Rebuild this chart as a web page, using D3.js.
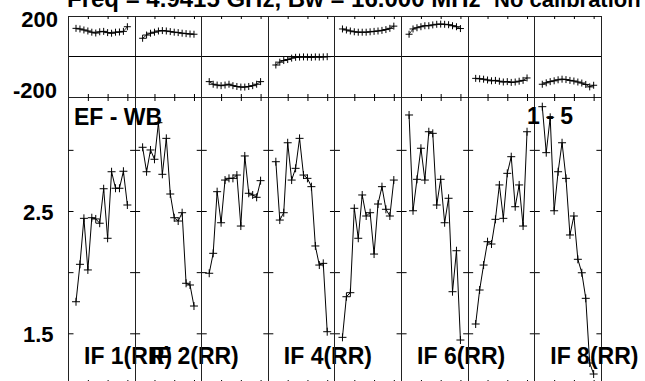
<!DOCTYPE html>
<html>
<head>
<meta charset="utf-8">
<script src="https://cdn.jsdelivr.net/npm/d3@7"></script>
<style>
  body { margin: 0; background: #fff; }
  text { font-family: "Liberation Sans", Arial, Helvetica, sans-serif; font-weight: bold; fill: #000; }
</style>
</head>
<body>
<div id="graphique"></div>
<script>
// Channels plotted in each IF (same for all)
const channels = [2, 3, 4, 5, 6, 7, 8, 9, 10, 11, 12, 13, 14, 15]
const ifLabels = ["IF 1(RR)", "IF 2(RR)", "", "IF 4(RR)", "", "IF 6(RR)", "", "IF 8(RR)"]

// Phase (degrees) per IF
const phaseIF1 = [139, 136, 131, 126, 120, 116, 122, 124, 118, 115, 120, 121, 124, 147]
const phaseIF2 = [90, 106, 115, 120, 126, 128, 126, 123, 120, 118, 115, 113, 111, 110]
const phaseIF3 = [-124, -137, -141, -144, -141, -137, -144, -148, -151, -151, -148, -144, -137, -124]
const phaseIF4 = [-42, -28, -20, -15, -8, -4, -3, -2, -3, -4, -2, -3, -2, -1]
const phaseIF5 = [136, 131, 126, 122, 120, 120, 120, 122, 124, 126, 129, 133, 139, 150]
const phaseIF6 = [110, 136, 142, 147, 152, 152, 156, 159, 160, 159, 157, 152, 147, 138]
const phaseIF7 = [-108, -110, -112, -116, -120, -118, -122, -126, -124, -128, -126, -122, -118, -106]
const phaseIF8 = [-137, -130, -124, -120, -115, -112, -114, -118, -121, -126, -131, -138, -150, -142]

// Amplitude per IF
const ampIF1 = [1.758, 2.064, 2.44, 2.018, 2.445, 2.435, 2.40, 2.682, 2.277, 2.821, 2.686, 2.686, 2.825, 2.549]
const ampIF2 = [3.021, 2.821, 2.999, 2.923, 3.222, 2.80, 3.094, 2.639, 2.445, 2.418, 2.486, 1.909, 1.895, 1.723]
const ampIF3 = [1.991, 2.154, 2.658, 2.404, 2.753, 2.767, 2.767, 2.794, 2.377, 2.95, 2.645, 2.631, 2.612, 2.748]
const ampIF4 = [2.903, 2.426, 2.486, 3.058, 2.753, 2.849, 3.094, 2.794, 2.767, 2.699, 2.214, 2.058, 2.072, 1.513]
const ampIF5 = [1.467, 1.799, 1.832, 2.522, 2.277, 2.631, 2.459, 2.486, 2.148, 2.557, 2.699, 2.514, 2.459, 2.753]
const ampIF6 = [3.285, 2.502, 2.759, 3.013, 2.753, 3.148, 3.135, 2.549, 2.759, 2.404, 2.604, 1.84, 2.175, 1.445]
const ampIF7 = [1.576, 1.854, 2.058, 2.249, 2.23, 2.432, 2.713, 2.44, 2.808, 2.944, 2.535, 2.713, 2.377, 3.148]
const ampIF8 = [3.353, 2.977, 3.266, 2.502, 2.821, 3.058, 2.767, 2.304, 2.459, 2.105, 1.995, 1.786, 1.257, 1.167]

const phases = [phaseIF1, phaseIF2, phaseIF3, phaseIF4, phaseIF5, phaseIF6, phaseIF7, phaseIF8]
const amps = [ampIF1, ampIF2, ampIF3, ampIF4, ampIF5, ampIF6, ampIF7, ampIF8]

const xTicks = [5, 10, 15]
const phaseLabels = [200, -200]
const ampTicks = [3.0, 2.5, 2.0, 1.5]
const ampLabels = [2.5, 1.5]

const title = "Freq = 4.9415 GHz, Bw = 16.000 MHz"
const title2 = "No calibration"

// Dimensions
const width = 645, height = 381
const left = 68.5, right = 601.4
const nPanels = 8
const pw = (right - left) / nPanels
const phTop = 16, phBot = 97, ampBot = 384

let svg = d3.select("#graphique")
    .append("svg")
    .attr("width", width)
    .attr("height", height)

// Echelles
let yPh = d3.scaleLinear().domain([-200, 200]).range([phBot, phTop])
let yAmp = d3.scaleLinear().domain([1.5, 2.5]).range([333.3, 211])

let cross = "M-4,0H4M0,-4V4"
let crossSmall = "M-3.5,0H3.5M0,-3.5V3.5"

const noDomain = g => g.select(".domain").remove()

for (let i = 0; i < nPanels; i++) {
    let x0 = left + i * pw
    let x = d3.scaleLinear().domain([0.1, 16.96]).range([x0, x0 + pw])
    let g = svg.append("g")

    // cadres
    g.append("rect").attr("x", x0).attr("y", phTop).attr("width", pw).attr("height", phBot - phTop)
        .attr("fill", "none").attr("stroke", "#222").attr("shape-rendering", "crispEdges")
    g.append("rect").attr("x", x0).attr("y", phBot).attr("width", pw).attr("height", ampBot - phBot)
        .attr("fill", "none").attr("stroke", "#222").attr("shape-rendering", "crispEdges")
    g.append("line").attr("x1", x0).attr("x2", x0 + pw).attr("y1", yPh(0)).attr("y2", yPh(0))
        .attr("stroke", "#000").attr("shape-rendering", "crispEdges")

    // ticks
    g.append("g").attr("transform", "translate(0," + phTop + ")")
        .call(d3.axisTop(x).tickValues(xTicks).tickSize(-3).tickFormat("")).call(noDomain)
    g.append("g").attr("transform", "translate(0," + phBot + ")")
        .call(d3.axisBottom(x).tickValues(xTicks).tickSize(-3).tickFormat("")).call(noDomain)
    g.append("g").attr("transform", "translate(0," + phBot + ")")
        .call(d3.axisTop(x).tickValues(xTicks).tickSize(-4).tickFormat("")).call(noDomain)
    g.append("g").attr("transform", "translate(0," + ampBot + ")")
        .call(d3.axisBottom(x).tickValues(xTicks).tickSize(-4).tickFormat("")).call(noDomain)
    g.append("g").attr("transform", "translate(" + x0 + ",0)")
        .call(d3.axisLeft(yAmp).tickValues(ampTicks).tickSize(-5).tickFormat("")).call(noDomain)
    g.append("g").attr("transform", "translate(" + (x0 + pw) + ",0)")
        .call(d3.axisRight(yAmp).tickValues(ampTicks).tickSize(-5).tickFormat("")).call(noDomain)

    // phase
    let ph = channels.map((c, k) => ({ c: c, v: phases[i][k] }))
    g.append("path").datum(ph)
        .attr("d", d3.line().x(d => x(d.c)).y(d => yPh(d.v)))
        .attr("fill", "none").attr("stroke", "#000").attr("stroke-width", 0.8)
    g.selectAll(".ph").data(ph).enter().append("path")
        .attr("transform", d => "translate(" + x(d.c) + "," + yPh(d.v) + ")")
        .attr("d", crossSmall).attr("stroke", "#000").attr("stroke-width", 1)

    // amplitude
    let am = channels.map((c, k) => ({ c: c, v: amps[i][k] }))
    g.append("path").datum(am)
        .attr("d", d3.line().x(d => x(d.c)).y(d => yAmp(d.v)))
        .attr("fill", "none").attr("stroke", "#000").attr("stroke-width", 1)
    g.selectAll(".am").data(am).enter().append("path")
        .attr("transform", d => "translate(" + x(d.c) + "," + yAmp(d.v) + ")")
        .attr("d", cross).attr("stroke", "#000").attr("stroke-width", 1)

    if (ifLabels[i]) {
        svg.append("text").attr("x", x0 + 15.5).attr("y", 363.5)
            .style("font-size", "23px").text(ifLabels[i])
    }
}

// Labels axes
svg.selectAll(".phl").data(phaseLabels).enter().append("text")
    .attr("x", d => d > 0 ? 58 : 57)
    .attr("y", d => d > 0 ? 26.5 : 97.5)
    .attr("text-anchor", "end").style("font-size", "22px")
    .text(d => d)
svg.selectAll(".aml").data(ampLabels).enter().append("text")
    .attr("x", 53.5)
    .attr("y", d => yAmp(d) + 8.5)
    .attr("text-anchor", "end").style("font-size", "22px")
    .text(d => d.toFixed(1))

svg.append("text").attr("x", 74).attr("y", 125).style("font-size", "23px").text("EF - WB")
svg.append("text").attr("x", 527).attr("y", 123.5).style("font-size", "23px").text("1 - 5")

// Titre
svg.append("text").attr("x", 67).attr("y", 7).style("font-size", "24px").text(title)
svg.append("text").attr("x", 494).attr("y", 7).style("font-size", "22px").text(title2)
</script>
</body>
</html>
